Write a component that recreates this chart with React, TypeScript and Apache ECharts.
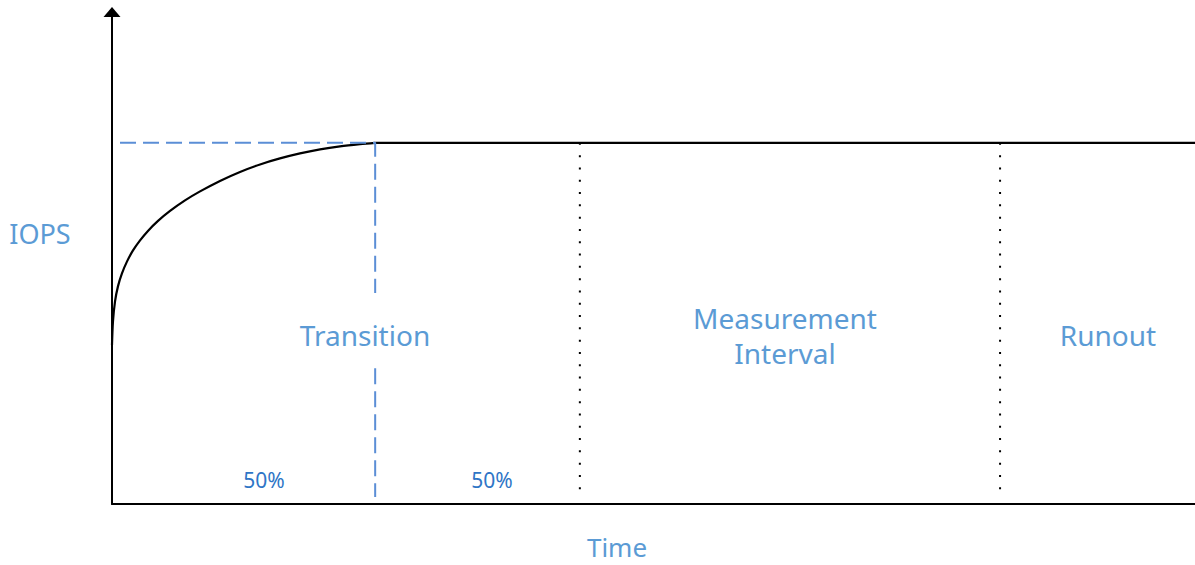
import React, { useEffect, useRef } from "react";
import * as echarts from "echarts";

// Time axis runs 0..100, IOPS axis 0..100 (arbitrary units)
const curveX = [0, 0.09, 0.28, 0.55, 0.92, 1.39, 1.94, 2.59, 3.32, 4.25, 5.36, 6.74, 8.13, 9.97, 11.82, 13.67, 15.51, 17.36, 19.21, 21.05, 22.9, 24.3];
const curveY = [32.32, 37.11, 41.18, 44.23, 46.87, 49.31, 51.54, 53.58, 55.51, 57.54, 59.57, 61.71, 63.54, 65.67, 67.5, 69.02, 70.24, 71.26, 72.07, 72.68, 73.13, 73.4];
const plateauX = [24.3, 100];
const plateauY = [73.4, 73.4];
const transitionEnd = 24.3;
const measurementStart = 43.2;
const runoutStart = 82.0;
const steadyLevel = 73.4;
const guideStartX = 0.74;
const guideGapTop = 42.9;
const guideGapBottom = 27.6;
const guideBottom = 1.4;
const dotBottom = 1.8;

const phaseLabels = ["Transition", "Measurement", "Interval", "Runout"];
const halfLabels = ["50%", "50%"];
const axisNames = { y: "IOPS", x: "Time" };

export default function App() {
  const ref = useRef<HTMLDivElement>(null);
  useEffect(() => {
    const chart = echarts.init(ref.current!, null, { renderer: "svg" });
    const blue = "#5B9BD5";
    const guide = "#5B8ED6";
    const fam = "Noto Sans";
    const pairs = (xs: number[], ys: number[]) => xs.map((x, i) => [x, ys[i]]);
    const label = (text: string, x: number, y: number, size: number, fill = blue) => ({
      type: "text",
      x,
      y,
      style: {
        text,
        fontSize: size,
        fontFamily: fam,
        fill,
        align: "center",
        verticalAlign: "middle",
        lineHeight: size,
      },
    });
    chart.setOption({
      animation: false,
      grid: { left: 112, right: 0, top: 12, bottom: 61 },
      xAxis: {
        type: "value",
        min: 0,
        max: 100,
        axisLine: { show: true, lineStyle: { color: "#000", width: 2 } },
        axisTick: { show: false },
        axisLabel: { show: false },
        splitLine: { show: false },
      },
      yAxis: {
        type: "value",
        min: 0,
        max: 100,
        axisLine: {
          show: true,
          symbol: ["none", "triangle"],
          symbolSize: [17, 10],
          lineStyle: { color: "#000", width: 2 },
        },
        axisTick: { show: false },
        axisLabel: { show: false },
        splitLine: { show: false },
      },
      series: [
        {
          type: "line",
          data: pairs(curveX, curveY),
          smooth: 0.3,
          symbol: "none",
          lineStyle: { color: "#000", width: 2.2 },
        },
        {
          type: "line",
          data: pairs(plateauX, plateauY),
          symbol: "none",
          lineStyle: { color: "#000", width: 2.2 },
        },
        {
          type: "line",
          data: [
            [guideStartX, steadyLevel],
            [transitionEnd, steadyLevel],
            [transitionEnd, guideGapTop],
          ],
          symbol: "none",
          lineStyle: { color: guide, width: 2, type: [16, 7] },
        },
        {
          type: "line",
          data: [
            [transitionEnd, guideGapBottom],
            [transitionEnd, guideBottom],
          ],
          symbol: "none",
          lineStyle: { color: guide, width: 2, type: [16, 7] },
        },
        {
          type: "line",
          data: [
            [measurementStart, steadyLevel],
            [measurementStart, dotBottom],
          ],
          symbol: "none",
          lineStyle: { color: "#000", width: 2, type: [2, 10.3] },
        },
        {
          type: "line",
          data: [
            [runoutStart, steadyLevel],
            [runoutStart, dotBottom],
          ],
          symbol: "none",
          lineStyle: { color: "#000", width: 2, type: [2, 10.3] },
        },
      ],
      graphic: [
        label(axisNames.y, 40, 233, 27),
        label(axisNames.x, 617, 547, 26),
        label(phaseLabels[0], 365, 335, 28),
        label(phaseLabels[1], 785, 318, 28),
        label(phaseLabels[2], 785, 353, 28),
        label(phaseLabels[3], 1108, 335, 28),
        label(halfLabels[0], 264, 480, 21, "#2E75C6"),
        label(halfLabels[1], 492, 480, 21, "#2E75C6"),
      ],
    });
    return () => chart.dispose();
  }, []);
  return (
    <div
      ref={ref}
      style={{ position: "fixed", left: 0, top: 0, width: 1195, height: 565, background: "#fff" }}
    />
  );
}
